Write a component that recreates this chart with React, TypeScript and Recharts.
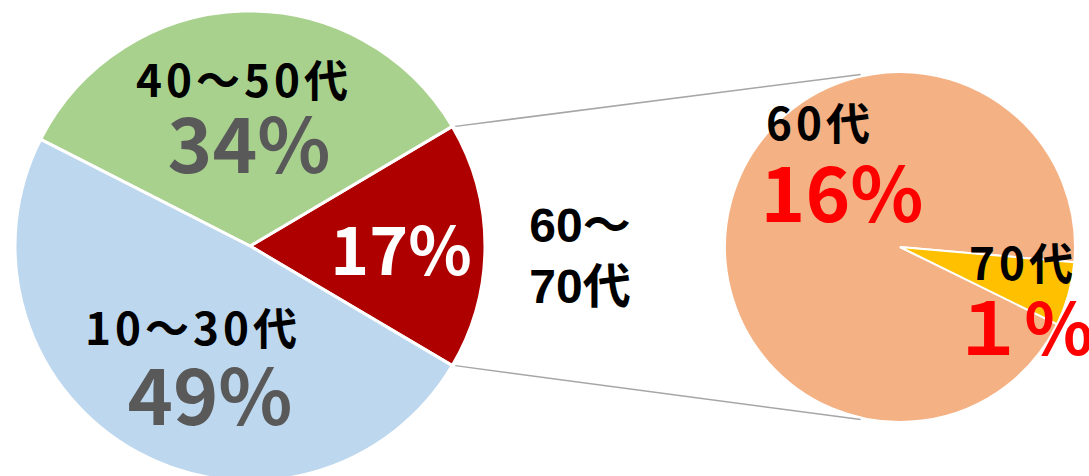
import React from 'react';
import { PieChart, Pie, Cell } from 'recharts';

// ---- data ----
const mainCategories = ['60～70代', '40～50代', '10～30代'];
const mainValues = [17, 34, 49];
const mainNameLabels = ['', '40～50代', '10～30代'];
const mainPctLabels = ['17%', '34%', '49%'];

const subCategories = ['60代', '70代'];
const subValues = [16, 1];
const subNameLabels = ['60代', '70代'];
const subPctLabels = ['16%', '１%'];

const bridgeLines = ['60～', '70代'];

// ---- layout / style ----
const W = 1089;
const H = 476;
const MAIN = { cx: 250, cy: 246, r: 235, start: -30.6 };
const SUB = { cx: 900, cy: 247, r: 175, start: -5 };
const mainColors = ['#AF0000', '#A9D18E', '#BDD7EE'];
const subColors = ['#F4B183', '#FFC000'];
const FONT = '"Noto Sans CJK JP", "Noto Sans", sans-serif';

const mainLabelLayout = [
  { name: null, pct: { dx: 151, dy: 29, size: 66, color: '#FFFFFF' } },
  { name: { dx: -6, dy: -149, size: 44, color: '#000000' }, pct: { dx: -1, dy: -73, size: 76, color: '#595959' } },
  { name: { dx: -57, dy: 99, size: 44, color: '#000000' }, pct: { dx: -40, dy: 179, size: 77, color: '#595959' } },
];
const subLabelLayout = [
  { name: { dx: -80, dy: -107, size: 44, color: '#000000' }, pct: { dx: -58, dy: -25, size: 76, color: '#FF0000' } },
  { name: { dx: 123, dy: 33, size: 44, color: '#000000' }, pct: { dx: 123, dy: 108, size: 72, color: '#FF0000' } },
];

const mainData = mainCategories.map((c, i) => ({ name: c, value: mainValues[i] }));
const subData = subCategories.map((c, i) => ({ name: c, value: subValues[i] }));

const makeLabel = (layout: any[], names: string[], pcts: string[], fallback: any) => (props: any) => {
  const i = props.index;
  const cx = props.cx ?? fallback.cx;
  const cy = props.cy ?? fallback.cy;
  const l = layout[i];
  if (!l) return null;
  return (
    <g key={`lbl-${i}`}>
      {l.name && names[i] ? (
        <text x={cx + l.name.dx} y={cy + l.name.dy} textAnchor="middle" fontFamily={FONT} fontWeight={700}
          fontSize={l.name.size} fill={l.name.color} letterSpacing={4}>
          {names[i]}
        </text>
      ) : null}
      {l.pct ? (
        <text x={cx + l.pct.dx} y={cy + l.pct.dy} textAnchor="middle" fontFamily={FONT} fontWeight={700}
          fontSize={l.pct.size} fill={l.pct.color}>
          {pcts[i]}
        </text>
      ) : null}
    </g>
  );
};

const pt = (c: { cx: number; cy: number; r: number }, deg: number) => {
  const a = (deg * Math.PI) / 180;
  return { x: c.cx + c.r * Math.cos(a), y: c.cy - c.r * Math.sin(a) };
};

export default function App() {
  const redSpan = (mainValues[0] / mainValues.reduce((a, b) => a + b, 0)) * 360;
  const mTop = pt(MAIN, MAIN.start + redSpan);
  const mBot = pt(MAIN, MAIN.start);
  const sTop = pt(SUB, 103);
  const sBot = pt(SUB, -103);
  return (
    <div style={{ position: 'absolute', left: 0, top: 0, width: W, height: H, background: '#fff' }}>
      <PieChart width={W} height={H} margin={{ top: 0, right: 0, bottom: 0, left: 0 }}>
        <Pie
          data={mainData}
          dataKey="value"
          nameKey="name"
          cx={MAIN.cx}
          cy={MAIN.cy}
          outerRadius={MAIN.r}
          startAngle={MAIN.start}
          endAngle={MAIN.start + 360}
          stroke="#FFFFFF"
          strokeWidth={3}
          isAnimationActive={false}
          labelLine={false}
          label={makeLabel(mainLabelLayout, mainNameLabels, mainPctLabels, MAIN)}
        >
          {mainData.map((d, i) => (
            <Cell key={d.name} fill={mainColors[i]} />
          ))}
        </Pie>
        <Pie
          data={subData}
          dataKey="value"
          nameKey="name"
          cx={SUB.cx}
          cy={SUB.cy}
          outerRadius={SUB.r}
          startAngle={SUB.start}
          endAngle={SUB.start + 360}
          stroke="#FFFFFF"
          strokeWidth={2}
          isAnimationActive={false}
          labelLine={false}
          label={makeLabel(subLabelLayout, subNameLabels, subPctLabels, SUB)}
        >
          {subData.map((d, i) => (
            <Cell key={d.name} fill={subColors[i]} />
          ))}
        </Pie>
      </PieChart>
      <svg width={W} height={H} style={{ position: 'absolute', left: 0, top: 0, pointerEvents: 'none' }}>
        <line x1={mTop.x + 3} y1={mTop.y} x2={sTop.x} y2={sTop.y - 2} stroke="#A6A6A6" strokeWidth={1.5} />
        <line x1={mBot.x + 3} y1={mBot.y} x2={sBot.x} y2={sBot.y + 2} stroke="#A6A6A6" strokeWidth={1.5} />
        {bridgeLines.map((t, i) => (
          <text key={t} x={580} y={242 + i * 61} textAnchor="middle"
            fontFamily='"Liberation Sans", Arial, "Noto Sans CJK JP", sans-serif' fontWeight={700}
            fontSize={48} fill="#000000">
            {t}
          </text>
        ))}
      </svg>
    </div>
  );
}
